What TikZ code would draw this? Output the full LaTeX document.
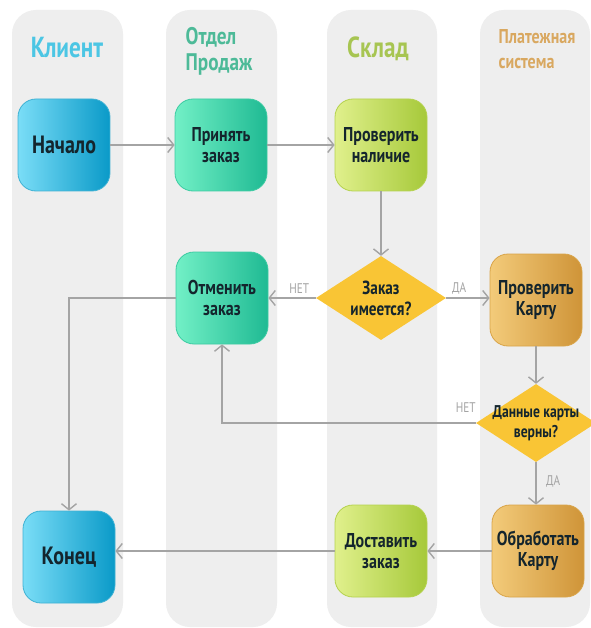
\documentclass[tikz,border=0pt]{standalone}
\usepackage{fontspec}
\newfontfamily\cond[FakeStretch=0.8]{PT Sans}
\usetikzlibrary{arrows.meta,shapes.geometric}

\definecolor{lanegray}{HTML}{EEEEEE}
\definecolor{flowgray}{HTML}{A4A4A4}
\definecolor{inkdark}{HTML}{14252D}
\definecolor{clientcyan}{HTML}{4CC6E4}
\definecolor{salesgreen}{HTML}{4DBA98}
\definecolor{storelime}{HTML}{A7C552}
\definecolor{paygold}{HTML}{D9A860}
\definecolor{decisionyellow}{HTML}{F9C535}

\definecolor{blueedge}{HTML}{3FB2D4}
\definecolor{bluel}{HTML}{7ADDF7}
\definecolor{bluer}{HTML}{0A9AC8}
\definecolor{tealedge}{HTML}{3CCBA2}
\definecolor{teall}{HTML}{72F0C6}
\definecolor{tealr}{HTML}{1FBA93}
\definecolor{limeedge}{HTML}{B5D24E}
\definecolor{limel}{HTML}{E0F08C}
\definecolor{limer}{HTML}{A6C93A}
\definecolor{goldedge}{HTML}{D9A448}
\definecolor{goldl}{HTML}{F3CB7A}
\definecolor{goldr}{HTML}{CF9438}

\tikzset{
	lane/.style={fill=lanegray, rounded corners=24pt},
	title/.style={font=\cond\bfseries\fontsize{29}{30}\selectfont, align=left},
	box/.style={rounded corners=18pt, minimum width=92pt, minimum height=92pt,
		align=center, text=inkdark, line width=0.8pt,
		font=\cond\bfseries\fontsize{20}{21}\selectfont},
	bluebox/.style={draw=blueedge, left color=bluel, right color=bluer},
	tealbox/.style={draw=tealedge, left color=teall, right color=tealr},
	limebox/.style={draw=limeedge, left color=limel, right color=limer},
	goldbox/.style={draw=goldedge, left color=goldl, right color=goldr},
	decision/.style={diamond, aspect=1.5, inner sep=-5pt, fill=decisionyellow,
		align=center, text=inkdark, font=\cond\bfseries\fontsize{19}{21}\selectfont},
	flow/.style={draw=flowgray, line width=1.4pt,
		-{Straight Barb[length=6pt, width=15pt]}},
	answer/.style={text=flowgray, font=\cond\fontsize{14}{15}\selectfont}
}

\begin{document}
\begin{tikzpicture}[x=1pt, y=-1pt]
	\useasboundingbox (0, 0) rectangle (590, 628);

	\fill [white] (0, 0) rectangle (590, 628);

	\foreach \l/\r in {12/123, 166/277, 327/437, 480/590}
		\fill [lane] (\l, 10) rectangle (\r, 627);

	\node (client) at (67, 48) [title, text=clientcyan] {Клиент};

	\node (sales) at (219, 51) [title, text=salesgreen,
		font=\cond\bfseries\fontsize{24}{26}\selectfont] {Отдел\\Продаж};

	\node (store) at (378, 49) [title, text=storelime] {Склад};

	\node (payment) at (537, 49) [title, text=paygold,
		font=\cond\bfseries\fontsize{20}{25}\selectfont] {Платежная\\система};

	\node (start) at (64, 145) [box, bluebox,
		font=\cond\bfseries\fontsize{25}{28}\selectfont] {Начало};

	\node (take) at (221, 145) [box, tealbox] {Принять\\заказ};

	\node (stock) at (381, 145) [box, limebox] {Проверить\\наличие};

	\node (cancel) at (222, 298) [box, tealbox] {Отменить\\заказ};

	\node (instock) at (381, 298) [decision, minimum width=130pt,
		minimum height=84pt] {Заказ\\имеется?};

	\node (checkcard) at (536, 300) [box, goldbox] {Проверить\\Карту};

	\node (cardok) at (536, 423) [decision, minimum width=120pt,
		minimum height=78pt, font=\cond\bfseries\fontsize{17}{20}\selectfont]
		{Данные карты\\верны?};

	\node (process) at (538, 551) [box, goldbox] {Обработать\\Карту};

	\node (deliver) at (381, 551) [box, limebox] {Доставить\\заказ};

	\node (finish) at (69, 557) [box, bluebox,
		font=\cond\bfseries\fontsize{25}{28}\selectfont] {Конец};

	\draw [flow] (start) -- (take);

	\draw [flow] (take) -- (stock);

	\draw [flow] (stock) -- (instock);

	\draw [flow]
		(instock) -- node [answer, above, pos=0.35] {НЕТ} (cancel);

	\draw [flow]
		(instock) -- node [answer, above, pos=0.3] {ДА} (checkcard.west |- instock);

	\draw [flow] (checkcard) -- (cardok);

	\draw [flow]
		(cardok.west) -| node [answer, above, pos=0.02, yshift=6pt] {НЕТ} (cancel.south);

	\draw [flow]
		(cardok) -- node [answer, right, pos=0.45, xshift=6pt] {ДА} (process.north -| cardok);

	\draw [flow] (process) -- (deliver);

	\draw [flow] (deliver.west) -- (deliver.west -| finish.east);

	\draw [flow] (cancel.west) -| (finish.north);
\end{tikzpicture}
\end{document}
